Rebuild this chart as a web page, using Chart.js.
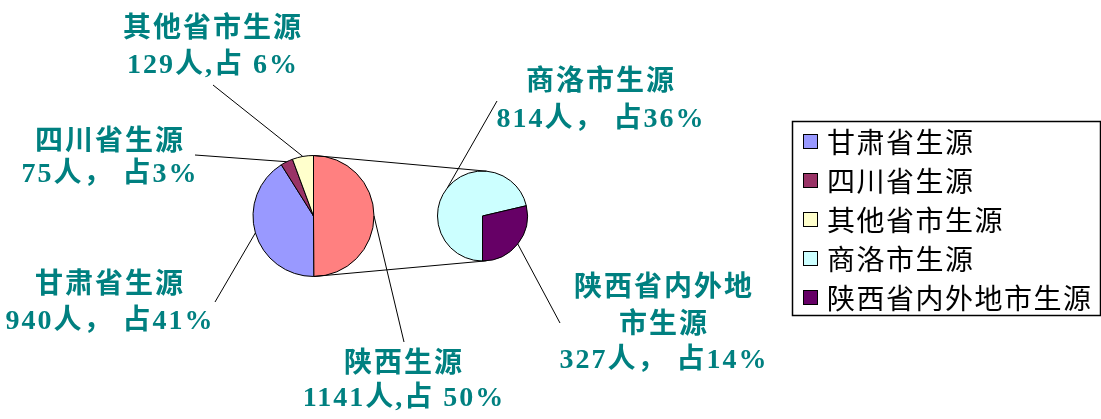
<!DOCTYPE html>
<html>
<head>
<meta charset="utf-8">
<script src="https://cdn.jsdelivr.net/npm/chart.js@4.4.0/dist/chart.umd.min.js"></script>
<style>
  body { margin: 0; background: #fff; }
  #wrap { position: relative; width: 1101px; height: 419px; }
  canvas { position: absolute; left: 0; top: 0; }
</style>
</head>
<body>
<div id="wrap">
  <canvas id="mainPie" width="1101" height="419"></canvas>
  <canvas id="subPie" width="1101" height="419"></canvas>
</div>
<script>
// main pie (陕西 gets split out into the small pie)
const mainLabels = ['陕西生源', '甘肃省生源', '四川省生源', '其他省市生源'];
const mainValues = [1141, 940, 75, 129];
const mainNotes = ['1141人,占 50%', '940人， 占41%', '75人， 占3%', '129人,占 6%'];
const mainColors = ['#FF8080', '#9999FF', '#993366', '#FFFFCC'];

// secondary pie
const subLabels = ['商洛市生源', '陕西省内外地市生源'];
const subValues = [814, 327];
const subNotes = ['814人， 占36%', '327人， 占14%'];
const subColors = ['#CCFFFF', '#660066'];

const labelFont = 'bold 28px "Liberation Serif", "Noto Sans CJK SC"';
const legendFont = '28px "Noto Sans CJK SC"';
const teal = '#008080';

// where the data labels sit (text centre, then where the leader line leaves the text)
const mainLabelPos = [
    { x: 404, ys: [365, 399], ax: 404, ay: 342 },
    { x: 110, ys: [286, 322], ax: 215, ay: 302 },
    { x: 110, ys: [143, 175], ax: 195, ay: 155 },
    { x: 213, ys: [30, 66], ax: 213, ay: 85 }
];
const subLabelPos = [
    { x: 601, ys: [83, 120], ax: 497, ay: 101 },
    { x: 664, ys: [289, 326, 361], ax: 560, ay: 323, wrap: 6 }
];

function edgePoint(arc) {
    const p = arc.getProps(['x', 'y', 'startAngle', 'endAngle', 'outerRadius'], true);
    const mid = (p.startAngle + p.endAngle) / 2;
    return [p.x + Math.cos(mid) * p.outerRadius, p.y + Math.sin(mid) * p.outerRadius];
}

function drawLabel(ctx, arc, title, note, pos) {
    const [ex, ey] = edgePoint(arc);
    ctx.beginPath();
    ctx.moveTo(pos.ax, pos.ay);
    ctx.lineTo(ex, ey);
    ctx.stroke();

    let lines = [title];
    if (pos.wrap) lines = [title.slice(0, pos.wrap), title.slice(pos.wrap)];
    lines.push(note);
    lines.forEach((t, i) => ctx.fillText(t, pos.x, pos.ys[i]));
}

function tangent(px, py, cx, cy, r, upper) {
    const dx = px - cx, dy = py - cy;
    const d = Math.hypot(dx, dy);
    const th = Math.atan2(dy, dx);
    const a = Math.acos(r / d);
    const t1 = th + a, t2 = th - a;
    const p1 = [cx + r * Math.cos(t1), cy + r * Math.sin(t1)];
    const p2 = [cx + r * Math.cos(t2), cy + r * Math.sin(t2)];
    if (upper) return p1[1] < p2[1] ? p1 : p2;
    return p1[1] > p2[1] ? p1 : p2;
}

const overlay = {
    id: 'overlay',
    afterDraw(chart) {
        const ctx = chart.ctx;
        const mainArcs = mainChart.getDatasetMeta(0).data;
        const subArcs = chart.getDatasetMeta(0).data;
        ctx.save();
        ctx.strokeStyle = '#000';
        ctx.lineWidth = 1;

        // connector lines between the two pies
        const m = mainArcs[0].getProps(['x', 'y', 'startAngle', 'endAngle', 'outerRadius'], true);
        const s = subArcs[0].getProps(['x', 'y', 'outerRadius'], true);
        const top = [m.x + Math.cos(m.startAngle) * m.outerRadius, m.y + Math.sin(m.startAngle) * m.outerRadius];
        const bot = [m.x + Math.cos(m.endAngle) * m.outerRadius, m.y + Math.sin(m.endAngle) * m.outerRadius];
        const tTop = tangent(top[0], top[1], s.x, s.y, s.outerRadius, true);
        const tBot = tangent(bot[0], bot[1], s.x, s.y, s.outerRadius, false);
        ctx.beginPath();
        ctx.moveTo(top[0], top[1]);
        ctx.lineTo(tTop[0], tTop[1]);
        ctx.moveTo(bot[0], bot[1]);
        ctx.lineTo(tBot[0], tBot[1]);
        ctx.stroke();

        // data labels
        ctx.font = labelFont;
        ctx.fillStyle = teal;
        ctx.textAlign = 'center';
        ctx.textBaseline = 'middle';
        ctx.letterSpacing = '2px';
        mainArcs.forEach((arc, i) => drawLabel(ctx, arc, mainLabels[i], mainNotes[i], mainLabelPos[i]));
        subArcs.forEach((arc, i) => drawLabel(ctx, arc, subLabels[i], subNotes[i], subLabelPos[i]));

        // legend
        const items = mainLabels.slice(1).map((l, i) => [l, mainColors[i + 1]])
            .concat(subLabels.map((l, i) => [l, subColors[i]]));
        ctx.lineWidth = 1.5;
        ctx.strokeRect(792.5, 121.5, 308, 194);
        ctx.font = legendFont;
        ctx.textAlign = 'left';
        ctx.letterSpacing = '1.5px';
        ctx.lineWidth = 1;
        items.forEach(([label, color], i) => {
            const y = 141 + i * 39;
            ctx.fillStyle = color;
            ctx.fillRect(803, y - 7, 15, 15);
            ctx.strokeStyle = '#000';
            ctx.strokeRect(803.5, y - 6.5, 14, 14);
            ctx.fillStyle = '#000';
            ctx.fillText(label, 827, y + 1);
        });
        ctx.restore();
    }
};

const mainChart = new Chart(document.getElementById('mainPie'), {
    type: 'pie',
    data: {
        labels: mainLabels,
        datasets: [{
            data: mainValues,
            backgroundColor: mainColors,
            borderColor: '#000',
            borderWidth: 1
        }]
    },
    options: {
        responsive: false,
        animation: false,
        rotation: 0,
        layout: { padding: { left: 252, top: 155, right: 726, bottom: 142 } },
        plugins: { legend: { display: false }, tooltip: { enabled: false } }
    }
});

const subChart = new Chart(document.getElementById('subPie'), {
    type: 'pie',
    data: {
        labels: subLabels,
        datasets: [{
            data: subValues,
            backgroundColor: subColors,
            borderColor: '#000',
            borderWidth: 1
        }]
    },
    options: {
        responsive: false,
        animation: false,
        rotation: 180,
        layout: { padding: { left: 437, top: 170, right: 573, bottom: 157 } },
        plugins: { legend: { display: false }, tooltip: { enabled: false } }
    },
    plugins: [overlay]
});
</script>
</body>
</html>
